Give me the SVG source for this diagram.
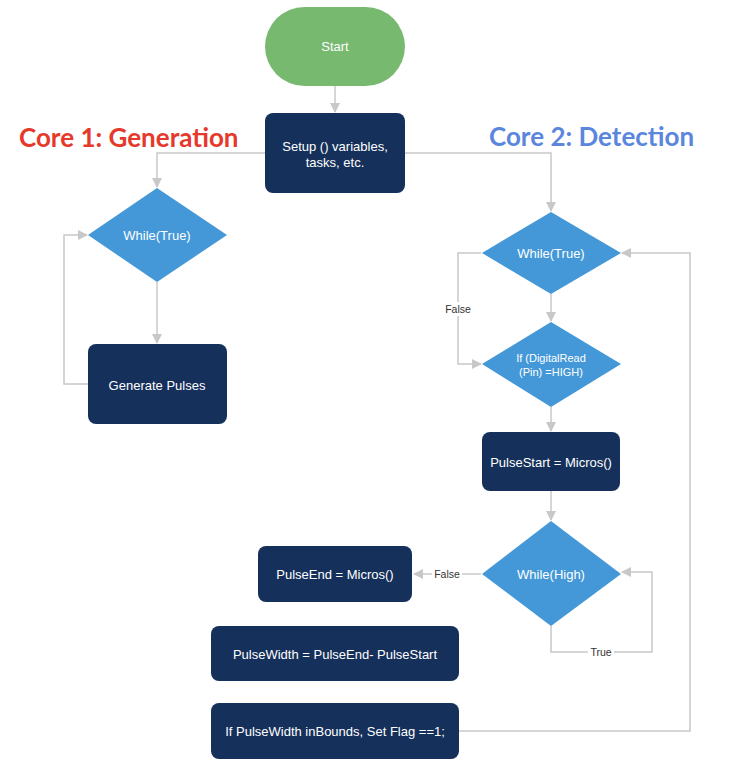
<svg xmlns="http://www.w3.org/2000/svg" width="734" height="770" viewBox="0 0 734 770">
<style>
.proc{fill:#15305a}
.dec{fill:#4498d8}
.term{fill:#78b970}
.t{font-family:"Liberation Sans",Arial,sans-serif;font-size:13px;fill:#fff;text-anchor:middle;dominant-baseline:central}
.ts{font-size:11px}
.c{fill:none;stroke:#c8c8c8;stroke-width:1.5}
.lbl{font-family:"Liberation Sans",Arial,sans-serif;font-size:10.5px;fill:#333;text-anchor:middle;dominant-baseline:central}
.lblbg{fill:#fff}
.h{font-family:Lato,"Open Sans",sans-serif;font-weight:bold;font-size:26px}
</style>
<defs>
<marker id="ah" markerWidth="10" markerHeight="10" refX="9" refY="5" orient="auto" markerUnits="userSpaceOnUse">
<path d="M0,0 L10,5 L0,10 Z" fill="#c8c8c8"/>
</marker>
</defs>
<rect width="734" height="770" fill="#fff"/>
<text class="h" x="19" y="147" fill="#e5392b">Core 1: Generation</text>
<text class="h" x="489" y="146" fill="#5b86de">Core 2: Detection</text>
<g id="connectors">
<path class="c" d="M335,86 V112" marker-end="url(#ah)"/>
<path class="c" d="M265,153 H157 V187" marker-end="url(#ah)"/>
<path class="c" d="M157,282 V343" marker-end="url(#ah)"/>
<path class="c" d="M88,384 H64 V235 H87" marker-end="url(#ah)"/>
<path class="c" d="M405,153 H551 V211" marker-end="url(#ah)"/>
<path class="c" d="M551,294 V321" marker-end="url(#ah)"/>
<path class="c" d="M481,253 H458 V364 H481" marker-end="url(#ah)"/>
<path class="c" d="M551,407 V431" marker-end="url(#ah)"/>
<path class="c" d="M551,491 V520" marker-end="url(#ah)"/>
<path class="c" d="M481,574 H414" marker-end="url(#ah)"/>
<path class="c" d="M551,626 V652 H652 V572 H622" marker-end="url(#ah)"/>
<path class="c" d="M459,731 H690 V253 H622" marker-end="url(#ah)"/>
<rect class="lblbg" x="443" y="302" width="30" height="14"/>
<text class="lbl" x="458" y="309">False</text>
<rect class="lblbg" x="432" y="567" width="30" height="14"/>
<text class="lbl" x="447" y="574">False</text>
<rect class="lblbg" x="588" y="645" width="26" height="14"/>
<text class="lbl" x="601" y="652">True</text>
</g>
<g id="start">
<rect class="term" x="265" y="7" width="140" height="79" rx="39.5"/>
<text class="t" x="335" y="46">Start</text>
</g>
<g id="setup">
<rect class="proc" x="265" y="113" width="140" height="80" rx="8"/>
<text class="t" x="335" y="146">Setup () variables,</text>
<text class="t" x="335" y="162">tasks, etc.</text>
</g>
<g id="while-true-1">
<polygon class="dec" points="157,188 227,235 157,282 88,235"/>
<text class="t" x="157" y="235">While(True)</text>
</g>
<g id="generate">
<rect class="proc" x="88" y="344" width="139" height="80" rx="8"/>
<text class="t" x="157" y="385">Generate Pulses</text>
</g>
<g id="while-true-2">
<polygon class="dec" points="551,212 621,253 551,294 482,253"/>
<text class="t" x="551" y="253">While(True)</text>
</g>
<g id="if-digitalread">
<polygon class="dec" points="551,322 621,364 551,407 482,364"/>
<text class="t ts" x="551" y="358">If (DigitalRead</text>
<text class="t ts" x="551" y="372">(Pin) =HIGH)</text>
</g>
<g id="pulsestart">
<rect class="proc" x="482" y="432" width="138" height="59" rx="8"/>
<text class="t" x="551" y="462">PulseStart = Micros()</text>
</g>
<g id="while-high">
<polygon class="dec" points="551,521 621,574 551,626 482,574"/>
<text class="t" x="551" y="574">While(High)</text>
</g>
<g id="pulseend">
<rect class="proc" x="258" y="546" width="154" height="56" rx="8"/>
<text class="t" x="335" y="574">PulseEnd = Micros()</text>
</g>
<g id="pulsewidth">
<rect class="proc" x="211" y="626" width="248" height="55" rx="8"/>
<text class="t" x="335" y="654">PulseWidth = PulseEnd- PulseStart</text>
</g>
<g id="inbounds">
<rect class="proc" x="211" y="703" width="248" height="56" rx="8"/>
<text class="t" x="335" y="731">If PulseWidth inBounds, Set Flag ==1;</text>
</g>
</svg>
